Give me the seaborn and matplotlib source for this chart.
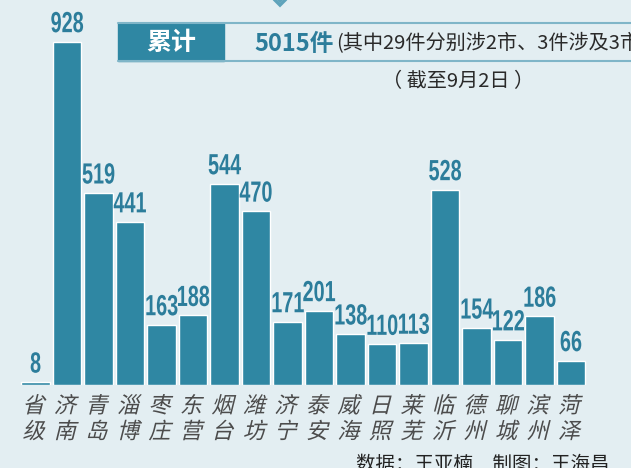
import matplotlib
matplotlib.use("Agg")
import matplotlib.pyplot as plt
import seaborn as sns
import pandas as pd
from matplotlib.patheffects import AbstractPathEffect
from matplotlib.transforms import Affine2D
from matplotlib.patches import Rectangle, Polygon

cities = ["省级", "济南", "青岛", "淄博", "枣庄", "东营", "烟台", "潍坊", "济宁",
          "泰安", "威海", "日照", "莱芜", "临沂", "德州", "聊城", "滨州", "菏泽"]
counts = [8, 928, 519, 441, 163, 188, 544, 470, 171, 201, 138, 110, 113, 528, 154, 122, 186, 66]

title_tag = "累计"
title_total = "5015件"
title_note = "(其中29件分别涉2市、3件涉及3市)"
subtitle = "（ 截至9月2日 ）"
footer = "数据：王亚楠　制图：王海昌"

sns.set_theme(style="white")
plt.rcParams['font.family'] = ['Noto Sans CJK SC', 'DejaVu Sans']

BG = "#e3eef2"
BAR = "#2f87a3"
LBL = "#2c7d9b"


class Condense(AbstractPathEffect):
    """Squeeze a text horizontally around its own centre."""
    def __init__(self, sx):
        super().__init__()
        self.sx = sx

    def draw_path(self, renderer, gc, tpath, affine, rgbFace=None):
        bb = tpath.get_extents(affine)
        cx = (bb.x0 + bb.x1) / 2
        t = affine + Affine2D().translate(-cx, 0).scale(self.sx, 1).translate(cx, 0)
        renderer.draw_path(gc, tpath, t, rgbFace)


class Slant(AbstractPathEffect):
    """Oblique a text around its own centre."""
    def __init__(self, deg):
        super().__init__()
        self.deg = deg

    def draw_path(self, renderer, gc, tpath, affine, rgbFace=None):
        bb = tpath.get_extents(affine)
        cx = (bb.x0 + bb.x1) / 2
        cy = (bb.y0 + bb.y1) / 2
        t = affine + Affine2D().translate(-cx, -cy).skew_deg(self.deg, 0).translate(cx, cy)
        renderer.draw_path(gc, tpath, t, rgbFace)


W, H = 631, 468
fig = plt.figure(figsize=(W / 100, H / 100), dpi=100)
fig.patch.set_facecolor(BG)
ax = fig.add_axes([0, 83 / H, 1, 385 / H])
ax.set_facecolor(BG)

df = pd.DataFrame({"city": cities, "count": counts})
sns.barplot(data=df, x="city", y="count", color=BAR, saturation=1, width=0.89, ax=ax)

ax.set_ylim(0, 385 / 0.370)
ax.set_xlim(-35.5 / 31.5, (W - 35.5) / 31.5)
for s in ax.spines.values():
    s.set_visible(False)
ax.set_yticks([])
ax.set_xlabel("")
ax.set_ylabel("")
ax.set_xticks(range(len(cities)))
ax.set_xticklabels(["\n".join(c) for c in cities], fontsize=16, color="#4c4c4c",
                   linespacing=1.15)
ax.tick_params(axis="x", length=0, pad=7)
for t in ax.get_xticklabels():
    t.set_path_effects([Slant(14)])

for cont in ax.containers:
    texts = ax.bar_label(cont, labels=[str(v) for v in counts], padding=2.5,
                         fontsize=21, fontweight="bold", color=LBL,
                         family=["Liberation Sans", "DejaVu Sans"])
    for t in texts:
        t.set_path_effects([Condense(0.68)])

# Title banner
def px(x, y):
    return x / W, 1 - y / H

fig.add_artist(plt.Line2D([118 / W, 1], [1 - 23 / H] * 2, color="#7fb5c8", lw=1.5))
fig.add_artist(plt.Line2D([118 / W, 1], [1 - 61 / H] * 2, color="#7fb5c8", lw=1.5))
x0, y0 = px(118, 61)
fig.add_artist(Rectangle((x0, y0), (224 - 118) / W, 38 / H, color=BAR,
                         transform=fig.transFigure))
# small decorative diamond at top
dx, dy = 280, 0
fig.add_artist(Polygon([px(dx - 8, dy - 8), px(dx, dy), px(dx + 8, dy - 8), px(dx, dy - 16)],
                       closed=True, fill=False, edgecolor="#5fa3bb", lw=3,
                       transform=fig.transFigure))
fig.add_artist(Polygon([px(dx - 9, dy - 4), px(dx, dy + 5), px(dx + 9, dy - 4)],
                       closed=False, fill=False, edgecolor="#5fa3bb", lw=2.5,
                       transform=fig.transFigure))

fig.text(*px(171, 43), title_tag, color="white", fontsize=18, fontweight="bold",
         ha="center", va="center")
fig.text(*px(254, 44), title_total, color=LBL, fontsize=17, fontweight="bold",
         ha="left", va="center")
fig.text(*px(336, 44), title_note, color="#2a2a2a", fontsize=14.5,
         ha="left", va="center")
fig.text(*px(458, 82), subtitle, color="#2a2a2a", fontsize=14.5,
         ha="center", va="center")
fig.text(*px(356, 464), footer, color="#222222", fontsize=14,
         ha="left", va="center")

fig.savefig("out.png", dpi=100, facecolor=BG)
